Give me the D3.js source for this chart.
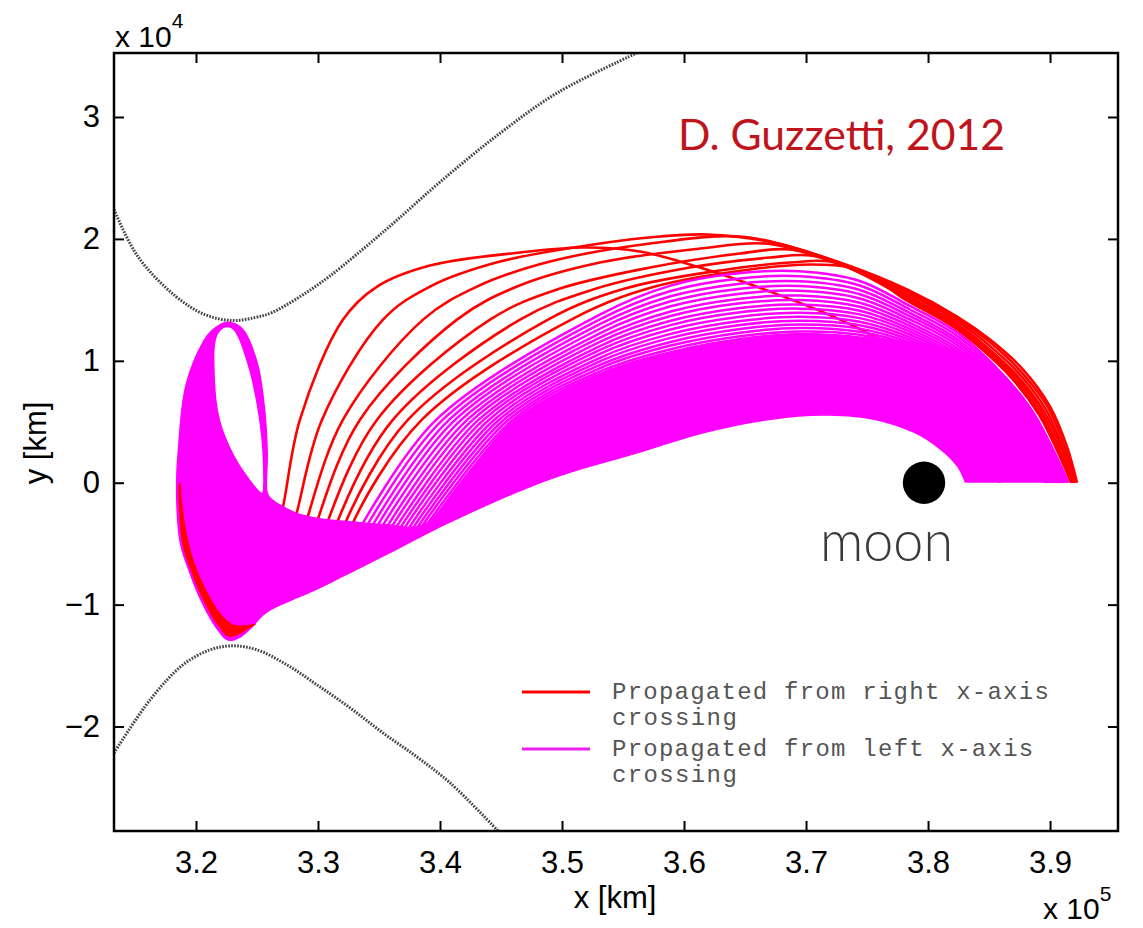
<!DOCTYPE html>
<html>
<head>
<meta charset="utf-8" />
<title>Transfer trajectories near the Moon</title>
<script src="https://cdn.jsdelivr.net/npm/d3@7"></script>
<style>
    body { margin: 0; background: #fff; }
    text { font-family: "Liberation Sans", Arial, Helvetica, sans-serif; }
    .tick line { stroke: #000; stroke-width: 2; }
    .tick text { font-size: 31px; fill: #000; }
</style>
</head>
<body>
<svg id="CHART" width="1143" height="928"></svg>
<script>
    // axis limits and ticks (x in 1e5 km, y in 1e4 km)
    var xDomain = [3.1328, 3.9557];
    var yDomain = [-2.857, 3.525];
    var xTicks = [3.2, 3.3, 3.4, 3.5, 3.6, 3.7, 3.8, 3.9];
    var yTicks = [-2, -1, 0, 1, 2, 3];

    // zero velocity curves (dotted gray)
    var zvcUpper = [[3.1328,2.241],[3.1524,1.855],[3.1836,1.527],[3.2074,1.379],[3.2295,1.330],[3.2484,1.355],
        [3.2623,1.396],[3.2853,1.527],[3.3091,1.691],[3.3558,2.077],[3.4025,2.488],[3.4501,2.874],[3.4968,3.202],[3.5624,3.530]];
    var zvcLower = [[3.1328,-2.217],[3.1623,-1.782],[3.1893,-1.494],[3.2115,-1.371],[3.2303,-1.338],[3.2500,-1.371],
        [3.2746,-1.494],[3.2992,-1.658],[3.3263,-1.847],[3.3533,-2.053],[3.3812,-2.250],[3.4083,-2.463],[3.4476,-2.857]];

    // red trajectories, propagated from the right x-axis crossing
    var red0 = [[3.2664,-0.378],[3.2713,-0.197],[3.2852,0.517],[3.3205,1.338],[3.3484,1.609],[3.3918,1.782],[3.4656,1.888],
        [3.5172,1.929],[3.5639,1.897],[3.6131,1.765],[3.6705,1.568],[3.7279,1.338],[3.7770,1.076],[3.8180,0.722],[3.8467,0.353],[3.8590,0]];
    var red1 = [[3.2779,-0.419],[3.2828,-0.238],[3.3033,0.517],[3.3533,1.338],[3.3918,1.609],[3.4492,1.814],[3.5311,1.962],
        [3.5803,2.020],[3.6189,2.036],[3.6730,1.970],[3.7279,1.806],[3.7828,1.585],[3.8238,1.363],[3.8508,1.174],[3.8779,0.928],
        [3.9000,0.624],[3.9139,0.296],[3.9221,0]];
    var red2 = [[3.2869,-0.452],[3.2918,-0.271],[3.3205,0.517],[3.3861,1.338],[3.4303,1.609],[3.4902,1.814],[3.5721,1.962],
        [3.6459,2.020],[3.6951,1.913],[3.7361,1.765],[3.7828,1.568],[3.8238,1.346],[3.8500,1.158],[3.8762,0.911],[3.8984,0.616],
        [3.9123,0.287],[3.9213,0]];
    var red3 = [[3.2951,-0.476],[3.3000,-0.296],[3.3344,0.517],[3.4139,1.338],[3.4631,1.609],[3.5311,1.806],[3.6131,1.921],
        [3.6664,1.962],[3.7115,1.856],[3.7525,1.700],[3.7820,1.560],[3.8221,1.338],[3.8484,1.141],[3.8746,0.895],[3.8967,0.599],
        [3.9107,0.279],[3.9205,0]];
    var red4 = [[3.3033,-0.493],[3.3082,-0.312],[3.3484,0.517],[3.4410,1.338],[3.4959,1.585],[3.5721,1.765],[3.6459,1.880],
        [3.6869,1.913],[3.7279,1.790],[3.7607,1.650],[3.7811,1.544],[3.8213,1.322],[3.8467,1.125],[3.8730,0.878],[3.8951,0.583],
        [3.9098,0.271],[3.9197,0]];
    var red5 = [[3.3107,-0.509],[3.3156,-0.328],[3.3615,0.517],[3.4656,1.338],[3.5254,1.585],[3.6049,1.765],[3.6705,1.847],
        [3.7033,1.864],[3.7361,1.765],[3.7607,1.642],[3.7803,1.535],[3.8197,1.314],[3.8459,1.117],[3.8721,0.870],[3.8934,0.575],
        [3.9082,0.263],[3.9189,0]];
    var red6 = [[3.3172,-0.517],[3.3221,-0.337],[3.3738,0.517],[3.4885,1.338],[3.5516,1.593],[3.6295,1.741],[3.6869,1.806],
        [3.7197,1.814],[3.7484,1.700],[3.7795,1.527],[3.8189,1.305],[3.8443,1.108],[3.8705,0.862],[3.8918,0.567],[3.9074,0.255],[3.9180,0]];
    var red7 = [[3.3230,-0.525],[3.3279,-0.345],[3.3852,0.517],[3.5107,1.355],[3.5762,1.609],[3.6541,1.749],[3.7033,1.790],
        [3.7361,1.765],[3.7607,1.650],[3.7787,1.519],[3.8180,1.297],[3.8434,1.100],[3.8689,0.854],[3.8910,0.558],[3.9066,0.246],[3.9172,0]];
    var redCurves = [red0, red1, red2, red3, red4, red5, red6, red7];

    // red strip that shows along the lower left tip of the bundle
    var redSliver = [[3.1862,0.0],[3.1866,-0.304],[3.1890,-0.509],[3.1946,-0.690],[3.2052,-0.950],[3.2185,-1.180],[3.2262,-1.262],
        [3.2340,-1.250],[3.2443,-1.190],[3.2492,-1.158],[3.2402,-1.170],[3.2300,-1.160],[3.2215,-1.090],[3.2110,-0.930],
        [3.1995,-0.680],[3.1925,-0.420],[3.1885,-0.150],[3.1870,0.0]];

    // magenta trajectories that still read as separate lines (outer to inner)
    var magStartX = [3.333,3.3374,3.3418,3.3459,3.3501,3.3542,3.3580,3.3619,3.3655,3.3690,3.3726,3.3759,3.3792,3.3822,3.3853,3.388];
    var magRiseX  = [3.397,3.4023,3.4076,3.4125,3.4175,3.4224,3.4270,3.4317,3.4359,3.4402,3.4445,3.4485,3.4524,3.4561,3.4597,3.463];
    var magStationX = [3.531, 3.589, 3.646, 3.695, 3.744, 3.785, 3.826];
    var magStationY = [
        [1.379,1.617,1.720,1.735,1.655,1.450,1.215],
        [1.340,1.573,1.676,1.693,1.618,1.421,1.189],
        [1.300,1.529,1.633,1.652,1.581,1.393,1.163],
        [1.263,1.488,1.592,1.613,1.546,1.366,1.138],
        [1.226,1.447,1.551,1.574,1.511,1.339,1.113],
        [1.190,1.405,1.510,1.535,1.476,1.312,1.089],
        [1.155,1.367,1.472,1.498,1.443,1.287,1.066],
        [1.121,1.328,1.433,1.462,1.411,1.262,1.043],
        [1.089,1.293,1.398,1.428,1.381,1.239,1.021],
        [1.057,1.257,1.362,1.394,1.350,1.216,1.000],
        [1.025,1.221,1.327,1.361,1.320,1.192,0.979],
        [0.995,1.188,1.294,1.329,1.292,1.171,0.959],
        [0.966,1.155,1.261,1.298,1.264,1.149,0.940],
        [0.939,1.125,1.231,1.270,1.239,1.130,0.921],
        [0.912,1.095,1.201,1.241,1.213,1.110,0.903],
        [0.887,1.067,1.174,1.215,1.190,1.092,0.887]
    ];
    var magNearX = [3.882,3.8802,3.8783,3.8766,3.8749,3.8731,3.8715,3.8699,3.8684,3.8669,3.8654,3.8641,3.8627,3.8614,3.8602,3.859];
    var magEndX  = [3.915,3.9135,3.9120,3.9105,3.9091,3.9077,3.9064,3.9050,3.9038,3.9026,3.9013,3.9002,3.8990,3.8980,3.8970,3.896];

    // solid magenta band (outline) and the hole inside its loop
    var bandOuter = [[3.912,0],[3.905,0.2],[3.878,0.62],[3.855,0.92],[3.826,1.08],[3.785,1.16],[3.744,1.20],[3.695,1.228],
        [3.646,1.188],[3.589,1.08],[3.531,0.90],[3.461,0.517],[3.420,0.05],[3.386,-0.34],
        [3.3533,-0.337],[3.3238,-0.312],[3.3000,-0.287],[3.2828,-0.246],[3.2713,-0.189],[3.2623,-0.131],
        [3.2590,-0.082],[3.2590,0.246],[3.2566,0.624],[3.2500,1.010],[3.2377,1.273],[3.2254,1.322],[3.2115,1.240],[3.2033,1.117],
        [3.1951,0.928],[3.1893,0.706],[3.1852,0.296],[3.1836,0.025],[3.1844,-0.304],[3.1869,-0.509],[3.1926,-0.690],[3.2033,-0.961],
        [3.2172,-1.207],[3.2262,-1.297],[3.2361,-1.273],[3.2443,-1.207],
        [3.2582,-1.067],[3.2992,-0.878],[3.3533,-0.608],[3.4082,-0.328],[3.4902,0.025],[3.5639,0.246],[3.6189,0.411],[3.6730,0.517],
        [3.7139,0.550],[3.7549,0.517],[3.7877,0.411],[3.8098,0.271],[3.8238,0.131],[3.8303,0]];
    var bandHole = [[3.2172,1.199],[3.2156,0.846],[3.2197,0.517],[3.2303,0.246],[3.2443,0.025],[3.2541,-0.082],[3.2549,-0.033],
        [3.2541,0.296],[3.2500,0.624],[3.2418,0.985],[3.2303,1.256],[3.2238,1.273]];

    var moon = { x: 3.7967, y: 0, r: 0.01737 };
    var legendLabels = [["Propagated from right x-axis", "crossing"], ["Propagated from left x-axis", "crossing"]];
    var legendColors = ["#ff0000", "#ee22ee"];

    /*----------------------------------------------------------------*/
    var W = 1143, H = 928;
    var L = 114, R = 1118, T = 53, B = 831;

    var svg = d3.select("#CHART");
    svg.append("rect").attr("width", W).attr("height", H).attr("fill", "#fff");

    var x = d3.scaleLinear().domain(xDomain).range([L, R]);
    var y = d3.scaleLinear().domain(yDomain).range([B, T]);

    svg.append("clipPath").attr("id", "plotclip")
        .append("rect").attr("x", L).attr("y", T).attr("width", R - L).attr("height", B - T);

    var plot = svg.append("g").attr("clip-path", "url(#plotclip)");

    var line = d3.line().x(function (d) { return x(d[0]); }).y(function (d) { return y(d[1]); })
        .curve(d3.curveCatmullRom.alpha(0.5));
    var closedLine = d3.line().x(function (d) { return x(d[0]); }).y(function (d) { return y(d[1]); })
        .curve(d3.curveCatmullRomClosed.alpha(0.5));

    // zero velocity curves
    plot.selectAll("path.zvc").data([zvcUpper, zvcLower]).enter().append("path")
        .attr("class", "zvc")
        .attr("d", line)
        .attr("fill", "none")
        .attr("stroke", "#474747")
        .attr("stroke-width", 3)
        .attr("stroke-dasharray", "1.7 1.3");

    // red trajectories go underneath the magenta ones
    plot.selectAll("path.red").data(redCurves).enter().append("path")
        .attr("class", "red")
        .attr("d", line)
        .attr("fill", "none")
        .attr("stroke", "#ff0000")
        .attr("stroke-width", 2.6);

    // solid magenta band
    plot.append("path")
        .attr("d", line(bandOuter) + "Z" + closedLine(bandHole))
        .attr("fill", "#ff00ff")
        .attr("fill-rule", "evenodd");

    plot.append("path")
        .attr("d", closedLine(redSliver))
        .attr("fill", "#ff0000");

    // separate magenta lines
    var magCurves = magStartX.map(function (sx, j) {
        var pts = [[sx, -0.40], [magRiseX[j], 0.517]];
        magStationX.forEach(function (mx, k) { pts.push([mx, magStationY[j][k]]); });
        pts.push([magNearX[j], 0.64]);
        pts.push([magEndX[j], 0]);
        return pts;
    });
    plot.selectAll("path.mag").data(magCurves).enter().append("path")
        .attr("class", "mag")
        .attr("d", line)
        .attr("fill", "none")
        .attr("stroke", "#ff00ff")
        .attr("stroke-width", 2.5);

    // moon
    plot.append("circle")
        .attr("cx", x(moon.x)).attr("cy", y(moon.y))
        .attr("r", x(moon.x + moon.r) - x(moon.x))
        .attr("fill", "#000");

    /*---------------------------AXES----------------------------------*/
    var gB = svg.append("g").attr("transform", "translate(0," + B + ")")
        .call(d3.axisBottom(x).tickValues(xTicks).tickSize(-10).tickPadding(20).tickFormat(d3.format(".1f")));
    var gT = svg.append("g").attr("transform", "translate(0," + T + ")")
        .call(d3.axisTop(x).tickValues(xTicks).tickSize(-10).tickFormat(""));
    var gL = svg.append("g").attr("transform", "translate(" + L + ",0)")
        .call(d3.axisLeft(y).tickValues(yTicks).tickSize(-10).tickPadding(14).tickFormat(d3.format("d")));
    var gR = svg.append("g").attr("transform", "translate(" + R + ",0)")
        .call(d3.axisRight(y).tickValues(yTicks).tickSize(-10).tickFormat(""));
    [gB, gT, gL, gR].forEach(function (g) {
        g.select(".domain").remove();
        g.attr("font-family", null).attr("font-size", null);
    });

    svg.append("rect")
        .attr("x", L).attr("y", T).attr("width", R - L).attr("height", B - T)
        .attr("fill", "none").attr("stroke", "#000").attr("stroke-width", 2.5);

    svg.append("text").attr("x", 615).attr("y", 908).attr("text-anchor", "middle")
        .attr("font-size", 31).text("x [km]");
    svg.append("text").attr("transform", "translate(46,443) rotate(-90)").attr("text-anchor", "middle")
        .attr("font-size", 31).text("y [km]");

    var m4 = svg.append("text").attr("x", 115).attr("y", 47).attr("font-size", 30);
    m4.append("tspan").text("x 10");
    m4.append("tspan").attr("font-size", 21).attr("dy", -19).text("4");

    var m5 = svg.append("text").attr("x", 1043).attr("y", 919).attr("font-size", 30);
    m5.append("tspan").text("x 10");
    m5.append("tspan").attr("font-size", 21).attr("dy", -18).text("5");

    /*---------------------------ANNOTATIONS---------------------------*/
    svg.append("text").attr("x", 678).attr("y", 150)
        .style("font-family", "Lato, 'Noto Sans', sans-serif")
        .attr("font-size", 42).attr("fill", "#c0141c")
        .attr("textLength", 327).attr("lengthAdjust", "spacingAndGlyphs")
        .text("D. Guzzetti, 2012");

    svg.append("text").attr("x", 820).attr("y", 561)
        .style("font-family", "Lato, 'Noto Sans', sans-serif")
        .style("font-weight", 300)
        .attr("font-size", 58).attr("fill", "#3a3a3a")
        .attr("textLength", 133).attr("lengthAdjust", "spacingAndGlyphs")
        .text("moon");

    /*---------------------------LEGEND--------------------------------*/
    var leg = svg.append("g").attr("transform", "translate(522,692)");
    var items = leg.selectAll("g").data(legendLabels).enter().append("g")
        .attr("transform", function (d, i) { return "translate(0," + (i * 57) + ")"; });
    items.append("line")
        .attr("x1", 0).attr("x2", 68).attr("y1", 0).attr("y2", 0)
        .attr("stroke", function (d, i) { return legendColors[i]; })
        .attr("stroke-width", 3);
    items.selectAll("text").data(function (d) { return d; }).enter().append("text")
        .attr("x", 90)
        .attr("y", function (d, k) { return 7 + k * 26; })
        .style("font-family", "'Liberation Mono', 'Courier New', monospace")
        .attr("font-size", 24)
        .attr("fill", "#555")
        .attr("textLength", function (d) { return d.length * 15.6; })
        .text(function (d) { return d; });
</script>
</body>
</html>
